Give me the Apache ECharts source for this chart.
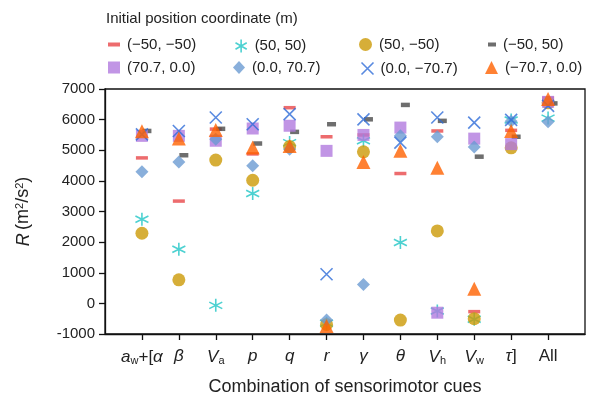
<!DOCTYPE html>
<html><head><meta charset="utf-8">
<script src="https://cdn.jsdelivr.net/npm/echarts@6/dist/echarts.min.js"></script>
<style>html,body{margin:0;padding:0;background:#fff}#c{width:595px;height:399px}</style>
</head><body><div id="c"></div>
<script>
const categories = ['{i|a}{s|w}{n|+[}{i|α}','{i|β}','{i|V}{s|a}','{i|p}','{i|q}','{i|r}','{i|γ}','{i|θ}','{i|V}{s|h}','{i|V}{s|w}','{i|τ}{n|]}','{n|All}'];
const seriesNames = ['(\u221250, \u221250)','(50, 50)','(50, \u221250)','(\u221250, 50)','(70.7, 0.0)','(0.0, 70.7)','(0.0, \u221270.7)','(\u221270.7, 0.0)'];
const vRedDash   = [4750, 3340, 5690, 4880, 6390, 5440, 5500, 4240, 5630, -270, 5650, 6700];
const vCyanStar  = [2745, 1765, -65, 3585, 5250, -650, 5310, 1985, -250, -520, 5990, 6050];
const vGoldCirc  = [2290, 770, 4680, 4020, 5120, -690, 4950, -545, 2365, -500, 5080, 6550];
const vDarkDash  = [5630, 4837, 5700, 5220, 5600, 5850, 6010, 6480, 5960, 4790, 5440, 6530];
const vPurpleSq  = [5470, 5470, 5310, 5710, 5800, 4980, 5500, 5740, -305, 5380, 5200, 6580];
const vDiamond   = [4300, 4620, 5360, 4490, 5030, -540, 620, 5470, 5440, 5110, 5950, 5930];
const vBlueX     = [5520, 5630, 6070, 5850, 6180, 950, 6010, 5250, 6070, 5900, 5990, 6450];
const vTriangle  = [5620, 5380, 5660, 5090, 5140, -740, 4620, 4980, 4430, 480, 5630, 6670];
const yTicks = [-1000, 0, 1000, 2000, 3000, 4000, 5000, 6000, 7000];

const pts = arr => arr.map((v, i) => [i, v]);
const X_PATH = 'path://M0,0L10,10M10,0L0,10';
const STAR_PATH = 'path://M5,0L5,10M0.67,2.5L9.33,7.5M0.67,7.5L9.33,2.5';

const styles = [
  {symbol:'rect', symbolSize:[12,3.5], itemStyle:{color:'#E8474A'}, lw:12, lh:4},
  {symbol:STAR_PATH, symbolSize:13, itemStyle:{color:'none', borderColor:'#20C5C5', borderWidth:1.6}, lw:13, lh:13},
  {symbol:'circle', symbolSize:13, itemStyle:{color:'#CC9A06'}, lw:13, lh:13},
  {symbol:'rect', symbolSize:[9,4.5], symbolOffset:[5,0], itemStyle:{color:'#4A4A4A'}, lw:8, lh:4},
  {symbol:'rect', symbolSize:12, itemStyle:{color:'#B27BDF'}, lw:12, lh:12},
  {symbol:'diamond', symbolSize:13, itemStyle:{color:'#6B9BD2'}, lw:12, lh:13},
  {symbol:X_PATH, symbolSize:12, itemStyle:{color:'none', borderColor:'#2F6DD8', borderWidth:1.6}, lw:12, lh:12},
  {symbol:'triangle', symbolSize:14, itemStyle:{color:'#FF6100'}, lw:13, lh:13}
];
const values = [vRedDash, vCyanStar, vGoldCirc, vDarkDash, vPurpleSq, vDiamond, vBlueX, vTriangle];

const series = values.map((arr, k) => ({
  type:'scatter', name: seriesNames[k], data: pts(arr),
  symbol: styles[k].symbol, symbolSize: styles[k].symbolSize,
  symbolOffset: styles[k].symbolOffset || [0,0],
  itemStyle: styles[k].itemStyle, emphasis:{disabled:true}, animation:false
}));

const legX = [103, 228, 354, 480];
const legY = [32, 55];
const legends = seriesNames.map((n, k) => ({
  data:[{name:n, icon: styles[k].symbol, itemStyle: styles[k].itemStyle}],
  left: legX[k % 4] + (k===3 ? 3 : 0), top: legY[Math.floor(k/4)],
  itemWidth: styles[k].lw, itemHeight: styles[k].lh, itemGap: 8,
  textStyle:{fontFamily:'Liberation Sans, Arial', fontSize:15, color:'#222', padding:[0,0,0,2]},
  selectedMode:false
}));

const chart = echarts.init(document.getElementById('c'), null, {renderer:'canvas'});
chart.setOption({
  animation:false,
  textStyle:{fontFamily:'Liberation Sans, Arial'},
  title:{text:'Initial position coordinate (m)', left:101, top:6,
    textStyle:{fontFamily:'Liberation Sans, Arial', fontSize:15, fontWeight:'normal', color:'#222'}},
  legend: legends,
  grid:{left:105, right:10, top:89, bottom:65, containLabel:false, outerBoundsMode:'none',
    show:true, borderColor:'#111', borderWidth:1.3},
  xAxis:{type:'value', min:-1, max:12, interval:1,
    axisLine:{show:true, onZero:false, lineStyle:{color:'#111', width:1.3}},
    axisTick:{show:true, customValues:[0,1,2,3,4,5,6,7,8,9,10,11], length:6, lineStyle:{color:'#111', width:1.3}},
    splitLine:{show:false},
    axisLabel:{customValues:[0,1,2,3,4,5,6,7,8,9,10,11], margin:14, color:'#222',
      formatter: v => categories[v],
      rich:{
        i:{fontSize:17, fontStyle:'italic', color:'#222', fontFamily:'Liberation Sans, Arial'},
        n:{fontSize:17, color:'#222', fontFamily:'Liberation Sans, Arial'},
        s:{fontSize:11, color:'#222', verticalAlign:'bottom', padding:[7,0,0,0], fontFamily:'Liberation Sans, Arial'}
      }},
    name:'Combination of sensorimotor cues', nameLocation:'middle', nameGap:44,
    nameTextStyle:{fontSize:18, color:'#222', fontFamily:'Liberation Sans, Arial'}
  },
  yAxis:{type:'value', min:-1000, max:7000, interval:1000,
    axisLine:{show:true, onZero:false, lineStyle:{color:'#111', width:1.3}},
    axisTick:{show:true, length:6, lineStyle:{color:'#111', width:1.3}},
    splitLine:{show:false},
    axisLabel:{fontSize:15, color:'#222', margin:10, fontFamily:'Liberation Sans, Arial',
      formatter: v => String(v)},
    name:'{i|R} {n|(m}{p|2}{n|/s}{p|2}{n|)}', nameLocation:'middle', nameGap:72,
    nameTextStyle:{rich:{
      i:{fontSize:18, fontStyle:'italic', color:'#222', fontFamily:'Liberation Sans, Arial'},
      n:{fontSize:18, color:'#222', fontFamily:'Liberation Sans, Arial'},
      p:{fontSize:11, color:'#222', verticalAlign:'top', padding:[0,0,8,0], fontFamily:'Liberation Sans, Arial'}
    }}
  },
  series: series
});
</script></body></html>
